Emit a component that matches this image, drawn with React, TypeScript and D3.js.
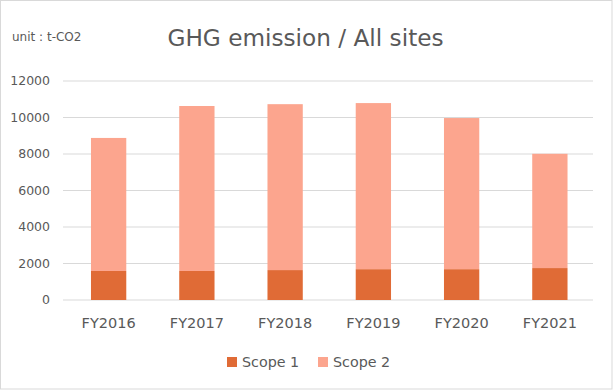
import React from "react";
import * as d3 from "d3";

const categories = ["FY2016", "FY2017", "FY2018", "FY2019", "FY2020", "FY2021"];
const scope1 = [1590, 1590, 1640, 1690, 1690, 1750];
const totals = [8880, 10630, 10730, 10790, 9970, 8010];
const scope2 = totals.map((t, i) => t - scope1[i]);
const yTicks = [0, 2000, 4000, 6000, 8000, 10000, 12000];
const seriesNames = ["Scope 1", "Scope 2"];
const colors = ["#E06B36", "#FCA58E"];

const W = 613;
const H = 390;
const FONT = "'DejaVu Sans', Verdana, sans-serif";
const TEXT = "#595959";

export default function App() {
  const x = d3.scaleBand<string>().domain(categories).range([64.5, 594]).paddingInner(0.6).paddingOuter(0.3);
  const y = d3.scaleLinear().domain([0, 12000]).range([300, 81]);
  const stackData = categories.map((c, i) => ({ cat: c, s1: scope1[i], s2: scope2[i] }));
  const stack = d3.stack<any>().keys(["s1", "s2"])(stackData);

  return (
    <svg width={W} height={H} style={{ position: "absolute", left: 0, top: 0, background: "#fff" }} fontFamily={FONT}>
      <rect x={0.5} y={0.5} width={W - 1.5} height={H - 1.5} fill="#fff" stroke="#D9D9D9" />
      <text x={12} y={40.5} fontSize={12} fill={TEXT}>unit : t-CO2</text>
      <text x={305.5} y={46} fontSize={23.2} fill={TEXT} textAnchor="middle">GHG emission / All sites</text>
      {yTicks.map((t) => (
        <g key={t}>
          <line x1={63} x2={593} y1={y(t)} y2={y(t)} stroke="#D9D9D9" strokeWidth={1} />
          <text x={50} y={y(t)} dy="0.35em" fontSize={12.5} fill={TEXT} textAnchor="end">{t}</text>
        </g>
      ))}
      {stack.map((layer, li) => (
        <g key={li} fill={colors[li]}>
          {layer.map((d: any, i: number) => (
            <rect key={i} x={x(categories[i])} width={x.bandwidth()} y={y(d[1])} height={y(d[0]) - y(d[1])} />
          ))}
        </g>
      ))}
      {categories.map((c) => (
        <text key={c} x={(x(c) as number) + x.bandwidth() / 2} y={327.5} fontSize={14.5} fill={TEXT} textAnchor="middle">{c}</text>
      ))}
      {seriesNames.map((s, i) => {
        const lx = i === 0 ? 227 : 318;
        return (
          <g key={s}>
            <rect x={lx} y={357} width={10} height={10} fill={colors[i]} />
            <text x={lx + 15} y={367} fontSize={14.3} fill={TEXT}>{s}</text>
          </g>
        );
      })}
    </svg>
  );
}
